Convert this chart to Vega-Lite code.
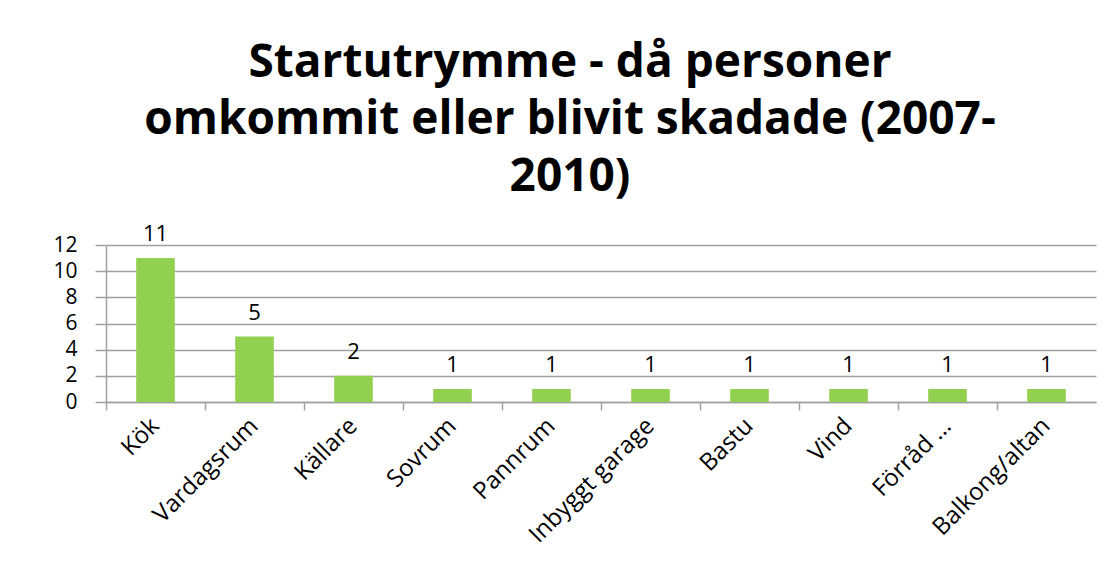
{
  "$schema": "https://vega.github.io/schema/vega-lite/v6.json",
  "autosize": "none",
  "width": 990,
  "height": 157,
  "padding": {"left": 106, "top": 245, "right": 18, "bottom": 180},
  "background": "white",
  "title": {
    "text": ["Startutrymme - då personer", "omkommit eller blivit skadade (2007-", "2010)"],
    "font": "Open Sans",
    "fontSize": 46,
    "fontWeight": "bold",
    "color": "#000000",
    "lineHeight": 57,
    "anchor": "middle",
    "dx": -31,
    "offset": 22
  },
  "data": {
    "values": [
      {"rum": "Kök", "antal": 11},
      {"rum": "Vardagsrum", "antal": 5},
      {"rum": "Källare", "antal": 2},
      {"rum": "Sovrum", "antal": 1},
      {"rum": "Pannrum", "antal": 1},
      {"rum": "Inbyggt garage", "antal": 1},
      {"rum": "Bastu", "antal": 1},
      {"rum": "Vind", "antal": 1},
      {"rum": "Förråd …", "antal": 1},
      {"rum": "Balkong/altan", "antal": 1}
    ]
  },
  "encoding": {
    "x": {
      "field": "rum",
      "type": "nominal",
      "sort": null,
      "scale": {"paddingInner": 0, "paddingOuter": 0},
      "axis": {
        "title": null,
        "labelAngle": -45,
        "labelAlign": "right",
        "labelBaseline": "middle",
        "labelFont": "Open Sans",
        "labelFontSize": 24,
        "labelColor": "#000000",
        "labelPadding": 12,
        "bandPosition": 0,
        "tickSize": 8,
        "tickColor": "#a0a0a0",
        "tickWidth": 1.5,
        "domainColor": "#a0a0a0",
        "domainWidth": 1.5,
        "grid": false,
        "labelOverlap": false
      }
    },
    "y": {
      "field": "antal",
      "type": "quantitative",
      "scale": {"domain": [0, 12], "nice": false},
      "axis": {
        "title": null,
        "values": [0, 2, 4, 6, 8, 10, 12],
        "labelFont": "Open Sans",
        "labelFontSize": 21,
        "labelColor": "#000000",
        "labelPadding": 18,
        "tickSize": 11,
        "tickColor": "#a0a0a0",
        "tickWidth": 1.5,
        "domainColor": "#a0a0a0",
        "domainWidth": 1.5,
        "grid": true,
        "gridColor": "#a0a0a0",
        "gridWidth": 1.5
      }
    }
  },
  "layer": [
    {
      "mark": {"type": "bar", "color": "#92D050", "width": {"band": 0.39}}
    },
    {
      "mark": {"type": "text", "baseline": "bottom", "dy": -12, "font": "Open Sans", "fontSize": 22, "color": "#000000"},
      "encoding": {"text": {"field": "antal", "type": "quantitative"}}
    }
  ],
  "config": {"view": {"stroke": null}}
}
